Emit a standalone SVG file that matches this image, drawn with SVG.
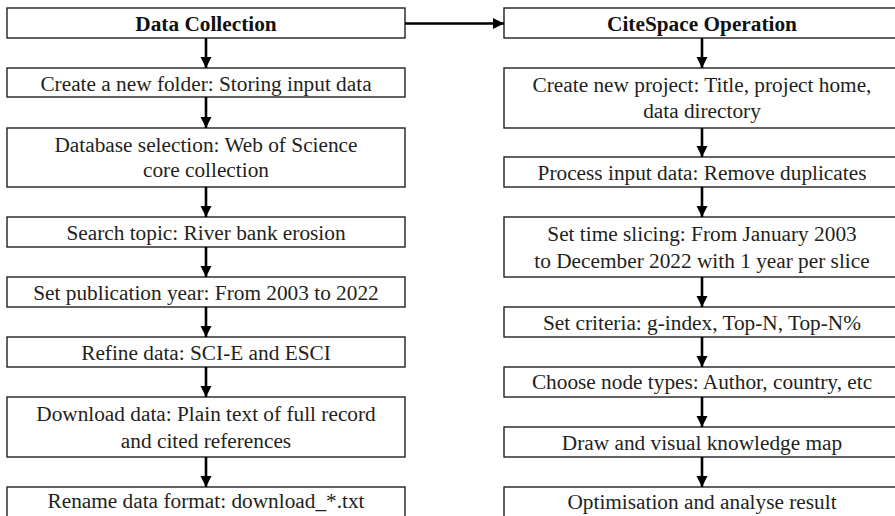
<svg xmlns="http://www.w3.org/2000/svg" width="895" height="516" viewBox="0 0 895 516">
  <style>
    .box { fill: #ffffff; stroke: #231f20; stroke-width: 1.4; }
    .t { font-family: "Liberation Serif", "Times New Roman", serif; font-size: 21.3px; fill: #231f20; text-anchor: middle; }
    .h { font-weight: bold; fill: #111111; }
    .link { stroke: #000000; stroke-width: 2.6; fill: none; marker-end: url(#head); }
  </style>
  <defs>
    <marker id="head" markerUnits="userSpaceOnUse" markerWidth="12" markerHeight="12" refX="11" refY="5.5" orient="auto">
      <path d="M0,0 L11,5.5 L0,11 z" fill="#000000"/>
    </marker>
  </defs>
  <rect width="895" height="516" fill="#ffffff"/>

  <!-- left column: data collection steps -->
  <g id="data-collection">
    <rect class="box" x="7" y="8" width="398" height="30"/>
    <text class="t h" x="206" y="30.5">Data Collection</text>
  </g>
  <g id="create-folder">
    <rect class="box" x="7" y="68" width="398" height="29"/>
    <text class="t" x="206" y="91">Create a new folder: Storing input data</text>
  </g>
  <g id="database-selection">
    <rect class="box" x="7" y="128" width="398" height="59"/>
    <text class="t" x="206" y="151.5">Database selection: Web of Science</text>
    <text class="t" x="206" y="177">core collection</text>
  </g>
  <g id="search-topic">
    <rect class="box" x="7" y="217" width="398" height="30"/>
    <text class="t" x="206" y="240">Search topic: River bank erosion</text>
  </g>
  <g id="publication-year">
    <rect class="box" x="7" y="277" width="398" height="30"/>
    <text class="t" x="206" y="299.5">Set publication year: From 2003 to 2022</text>
  </g>
  <g id="refine-data">
    <rect class="box" x="7" y="337" width="398" height="30"/>
    <text class="t" x="206" y="359.5">Refine data: SCI-E and ESCI</text>
  </g>
  <g id="download-data">
    <rect class="box" x="7" y="397" width="398" height="60"/>
    <text class="t" x="206" y="421">Download data: Plain text of full record</text>
    <text class="t" x="206" y="447.5">and cited references</text>
  </g>
  <g id="rename-format">
    <rect class="box" x="7" y="487" width="398" height="45"/>
    <text class="t" x="206" y="508">Rename data format: download_*.txt</text>
  </g>

  <!-- right column: CiteSpace steps -->
  <g id="citespace-operation">
    <rect class="box" x="504" y="8" width="400" height="30"/>
    <text class="t h" x="702" y="30.5">CiteSpace Operation</text>
  </g>
  <g id="new-project">
    <rect class="box" x="504" y="68" width="400" height="60"/>
    <text class="t" x="702" y="92">Create new project: Title, project home,</text>
    <text class="t" x="702" y="117.5">data directory</text>
  </g>
  <g id="process-input">
    <rect class="box" x="504" y="157" width="400" height="30"/>
    <text class="t" x="702" y="179.5">Process input data: Remove duplicates</text>
  </g>
  <g id="time-slicing">
    <rect class="box" x="504" y="217" width="400" height="60"/>
    <text class="t" x="702" y="241">Set time slicing: From January 2003</text>
    <text class="t" x="702" y="267.5">to December 2022 with 1 year per slice</text>
  </g>
  <g id="criteria">
    <rect class="box" x="504" y="307" width="400" height="30"/>
    <text class="t" x="702" y="329.5">Set criteria: g-index, Top-N, Top-N%</text>
  </g>
  <g id="node-types">
    <rect class="box" x="504" y="367" width="400" height="30"/>
    <text class="t" x="702" y="389">Choose node types: Author, country, etc</text>
  </g>
  <g id="knowledge-map">
    <rect class="box" x="504" y="427" width="400" height="30"/>
    <text class="t" x="702" y="449.5">Draw and visual knowledge map</text>
  </g>
  <g id="optimisation">
    <rect class="box" x="504" y="487" width="400" height="45"/>
    <text class="t" x="702" y="508.5">Optimisation and analyse result</text>
  </g>

  <!-- connectors -->
  <g id="connectors">
    <line class="link" x1="405" y1="23.5" x2="504" y2="23.5"/>
    <line class="link" x1="206" y1="38" x2="206" y2="68"/>
    <line class="link" x1="206" y1="97" x2="206" y2="128"/>
    <line class="link" x1="206" y1="187" x2="206" y2="217"/>
    <line class="link" x1="206" y1="247" x2="206" y2="277"/>
    <line class="link" x1="206" y1="307" x2="206" y2="337"/>
    <line class="link" x1="206" y1="367" x2="206" y2="397"/>
    <line class="link" x1="206" y1="457" x2="206" y2="487"/>
    <line class="link" x1="702" y1="38" x2="702" y2="68"/>
    <line class="link" x1="702" y1="128" x2="702" y2="157"/>
    <line class="link" x1="702" y1="187" x2="702" y2="217"/>
    <line class="link" x1="702" y1="277" x2="702" y2="307"/>
    <line class="link" x1="702" y1="337" x2="702" y2="367"/>
    <line class="link" x1="702" y1="397" x2="702" y2="427"/>
    <line class="link" x1="702" y1="457" x2="702" y2="487"/>
  </g>
</svg>
